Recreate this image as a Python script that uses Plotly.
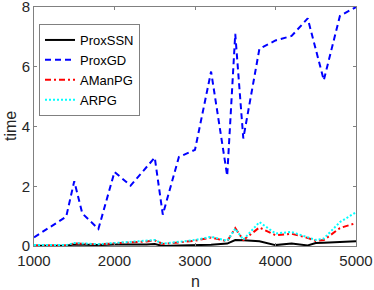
import plotly.graph_objects as go

# ProxGD
n_gd = [1000, 1400, 1500, 1600, 1800, 2000, 2200, 2500, 2600, 2800, 3000,
        3200, 3400, 3500, 3600, 3800, 4000, 4200, 4400, 4600, 4800, 5000]
t_gd = [0.29, 0.98, 2.17, 1.09, 0.57, 2.48, 2.02, 2.96, 1.05, 2.98, 3.22,
        5.84, 2.35, 7.10, 3.60, 6.60, 6.88, 7.03, 7.62, 5.55, 7.70, 8.00]

# low series share n
n_low = [1000, 1400, 1500, 1600, 1800, 2000, 2200, 2400, 2500, 2600, 2800, 3000,
         3200, 3400, 3500, 3600, 3800, 4000, 4200, 4400, 4500, 4600, 4800, 5000]
t_ssn = [0.01, 0.01, 0.05, 0.04, 0.03, 0.05, 0.04, 0.05, 0.07, 0.00, 0.02, 0.03,
         0.04, 0.08, 0.20, 0.19, 0.16, 0.03, 0.08, 0.02, 0.10, 0.11, 0.13, 0.16]
t_amanpg = [0.02, 0.02, 0.09, 0.08, 0.05, 0.09, 0.12, 0.15, 0.19, 0.07, 0.12, 0.18,
            0.28, 0.16, 0.60, 0.20, 0.62, 0.36, 0.41, 0.27, 0.17, 0.20, 0.60, 0.77]
t_arpg = [0.03, 0.03, 0.10, 0.09, 0.06, 0.10, 0.14, 0.17, 0.20, 0.08, 0.14, 0.20,
          0.31, 0.17, 0.58, 0.21, 0.80, 0.42, 0.47, 0.30, 0.20, 0.25, 0.80, 1.13]

x_ticks = [1000, 2000, 3000, 4000, 5000]
y_ticks = [0, 2, 4, 6, 8]

FONT = "Liberation Sans, Arial, sans-serif"
W, H = 374, 290
ML, MR, MT, MB = 34, 18, 7, 44

fig = go.Figure()
fig.add_trace(go.Scatter(x=n_low, y=t_ssn, mode="lines", name="ProxSSN",
                         line=dict(color="black", width=2)))
fig.add_trace(go.Scatter(x=n_gd, y=t_gd, mode="lines", name="ProxGD",
                         line=dict(color="#0000FF", width=2, dash="6px,4px")))
fig.add_trace(go.Scatter(x=n_low, y=t_amanpg, mode="lines", name="AManPG",
                         line=dict(color="#FF0000", width=2, dash="6px,3px,2px,3px")))
fig.add_trace(go.Scatter(x=n_low, y=t_arpg, mode="lines", name="ARPG",
                         line=dict(color="#00FFFF", width=2, dash="2px,2px")))

axis_common = dict(showgrid=False, zeroline=False, showline=True, mirror="ticks",
                   linecolor="#808080", linewidth=1, ticks="inside", ticklen=3,
                   tickcolor="#808080", automargin=False, ticklabeloverflow="allow",
                   tickfont=dict(family=FONT, size=15, color="#262626"))

pw, ph = W - ML - MR, H - MT - MB

fig.update_layout(
    width=W, height=H,
    margin=dict(l=ML, r=MR, t=MT, b=MB, autoexpand=False),
    paper_bgcolor="white", plot_bgcolor="white",
    font=dict(family=FONT, color="#262626"),
    xaxis=dict(range=[1000, 5000], tickvals=x_ticks, ticklabelstandoff=1, **axis_common),
    yaxis=dict(range=[0, 8], tickvals=y_ticks, **axis_common),
    legend=dict(x=(39 - ML) / pw, y=(H - MB - 24) / ph, xanchor="left", yanchor="top",
                bgcolor="white", bordercolor="#808080", borderwidth=1,
                font=dict(family=FONT, size=13, color="black"),
                itemwidth=30, tracegroupgap=0),
    showlegend=True,
    annotations=[
        dict(text="n", x=(195 - ML) / pw, y=(H - MB - 281) / ph,
             xref="paper", yref="paper", showarrow=False,
             xanchor="center", yanchor="middle",
             font=dict(family=FONT, size=16, color="#262626")),
        dict(text="time", textangle=-90, x=(10 - ML) / pw, y=(H - MB - 126) / ph,
             xref="paper", yref="paper", showarrow=False,
             xanchor="center", yanchor="middle",
             font=dict(family=FONT, size=16, color="#262626")),
    ],
)

fig.write_html("out.html", config={"displayModeBar": False},
               post_script="document.body.style.margin='0';document.body.style.padding='0';")
